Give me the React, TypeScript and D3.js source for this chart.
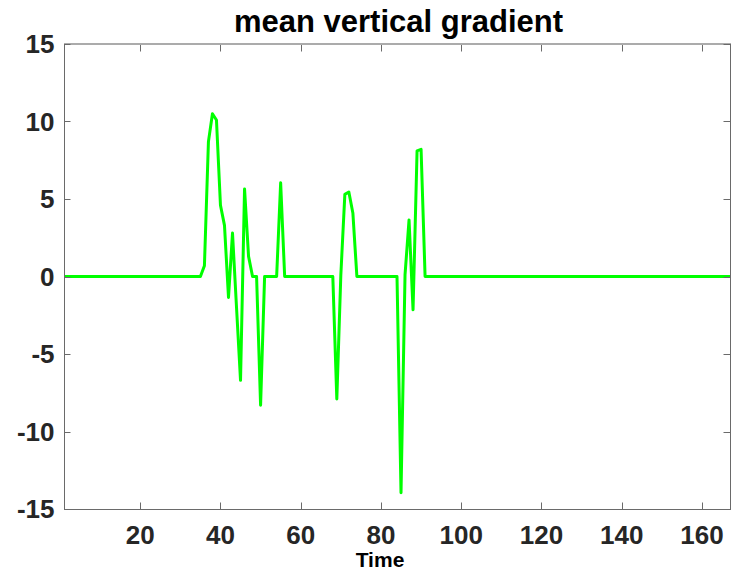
import React from "react";
import * as d3 from "d3";

const times = [1, 35, 36, 37, 38, 39, 40, 41, 42, 43, 44, 45, 46, 47, 48, 49, 50, 51, 54, 55, 56, 68, 69, 70, 71, 72, 73, 74, 84, 85, 86, 87, 88, 89, 90, 91, 167];
const values = [0, 0, 0.7, 8.7, 10.5, 10.1, 4.6, 3.3, -1.35, 2.8, -2.0, -6.7, 5.65, 1.3, 0, 0, -8.3, 0, 0, 6.05, 0, 0, -7.9, 0.1, 5.3, 5.45, 4.1, 0, 0, -13.95, 0.1, 3.65, -2.15, 8.1, 8.2, 0, 0];
const xTicks = [20, 40, 60, 80, 100, 120, 140, 160];
const yTicks = [-15, -10, -5, 0, 5, 10, 15];
const title = "mean vertical gradient";
const xLabel = "Time";

export default function App() {
  const W = 733, H = 574;
  const left = 64, right = 730, top = 44, bottom = 509;
  const x = d3.scaleLinear().domain([1, 167]).range([left, right]);
  const y = d3.scaleLinear().domain([-15, 15]).range([bottom, top]);
  const pts: [number, number][] = times.map((t, i) => [t, values[i]]);
  const line = d3.line<[number, number]>().x(d => x(d[0])).y(d => y(d[1]));
  const font = "'Liberation Sans', Arial, Helvetica, sans-serif";
  const axisColor = "#6a6a6a";
  const textColor = "#262626";
  return (
    <div style={{ position: "absolute", left: 0, top: 0 }}>
      <svg width={W} height={H} style={{ display: "block", background: "#fff" }}>
        <rect x={left} y={top} width={right - left} height={bottom - top} fill="#fff" />
        <path d={line(pts) || ""} fill="none" stroke="#00ff00" strokeWidth={3} strokeLinejoin="round" />
        {/* box */}
        <line x1={left} x2={right + 1} y1={top} y2={top} stroke="#ababab" strokeWidth={2} />
        <line x1={left + 0.5} x2={left + 0.5} y1={top} y2={bottom + 1} stroke={axisColor} strokeWidth={1} />
        <line x1={right + 0.5} x2={right + 0.5} y1={top} y2={bottom + 1} stroke={axisColor} strokeWidth={1} />
        <line x1={left} x2={right + 1} y1={bottom + 0.5} y2={bottom + 0.5} stroke={axisColor} strokeWidth={1} />
        {xTicks.map(t => (
          <g key={"x" + t}>
            <line x1={Math.round(x(t)) + 0.5} x2={Math.round(x(t)) + 0.5} y1={bottom} y2={bottom - 6.5} stroke={axisColor} />
            <line x1={Math.round(x(t)) + 0.5} x2={Math.round(x(t)) + 0.5} y1={top + 1} y2={top + 7.5} stroke={axisColor} />
            <text x={x(t)} y={544} textAnchor="middle" fontFamily={font} fontWeight="bold" fontSize={26} fill={textColor}>{t}</text>
          </g>
        ))}
        {yTicks.map(t => (
          <g key={"y" + t}>
            <line x1={left} x2={left + 6.5} y1={Math.round(y(t)) + 0.5} y2={Math.round(y(t)) + 0.5} stroke={axisColor} />
            <line x1={right} x2={right - 6.5} y1={Math.round(y(t)) + 0.5} y2={Math.round(y(t)) + 0.5} stroke={axisColor} />
            <text x={54.5} y={y(t) + 9.3} textAnchor="end" fontFamily={font} fontWeight="bold" fontSize={26} fill={textColor}>{t}</text>
          </g>
        ))}
        <text x={(236 + 561) / 2} y={31.5} textAnchor="middle" fontFamily={font} fontWeight="bold" fontSize={31} fill="#000">{title}</text>
        <text x={380} y={567} textAnchor="middle" fontFamily={font} fontWeight="bold" fontSize={21} fill="#000">{xLabel}</text>
      </svg>
    </div>
  );
}
